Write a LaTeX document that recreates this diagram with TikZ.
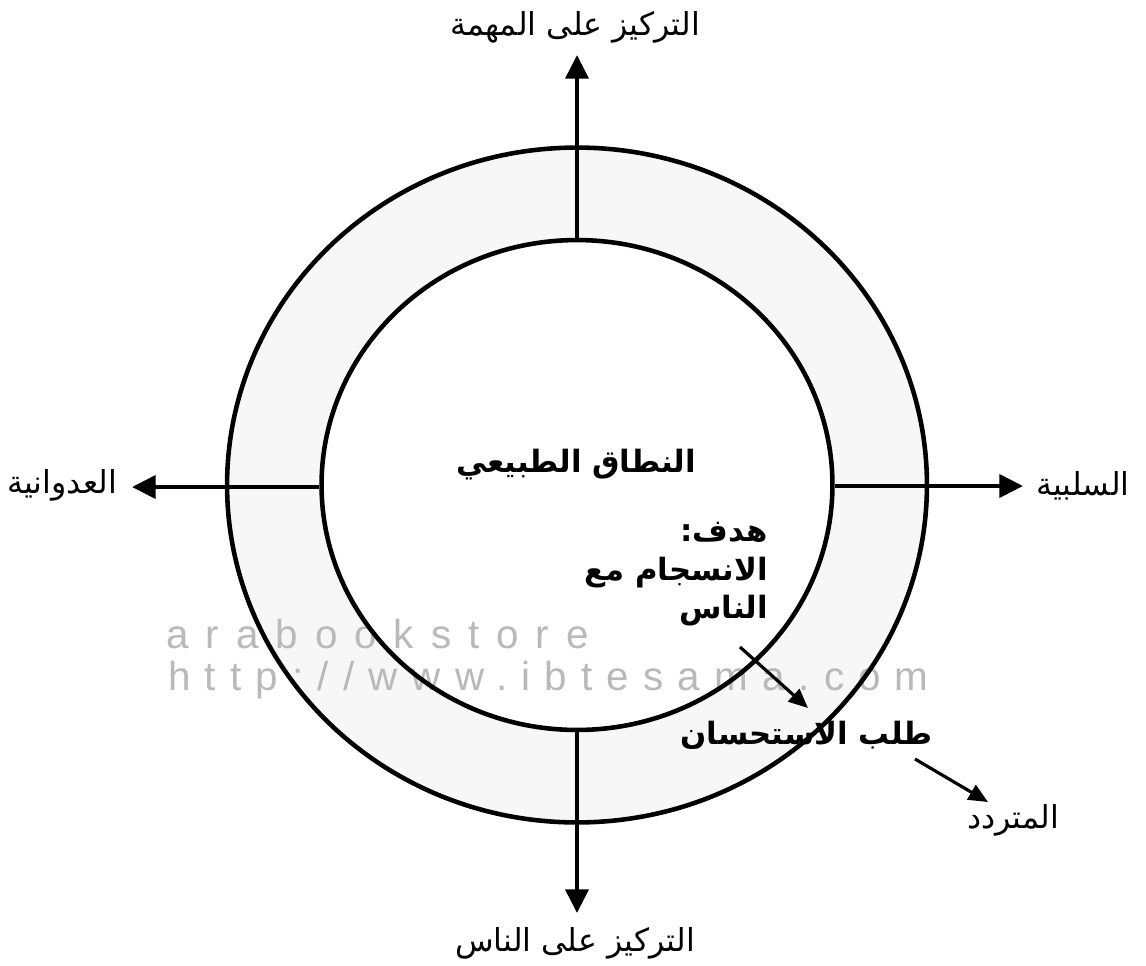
\documentclass[tikz,border=0pt]{standalone}
\usepackage{fontspec}
\usetikzlibrary{shapes.geometric,arrows.meta}
\newfontfamily\arfont[Script=Arabic]{DejaVu Sans}
\newfontfamily\wmfont{Liberation Sans}
\TeXXeTstate=1
\begin{document}
\begin{tikzpicture}[x=0.02cm,y=-0.02cm,
 ring/.style={draw, ellipse, line width=2.6pt, inner sep=0pt},
 arr/.style={line width=2.6pt, -{Triangle[length=13.5pt,width=13pt]}},
 sarr/.style={line width=1.8pt, -{Triangle[length=11pt,width=9.5pt]}},
 lbl/.style={font=\arfont\fontsize{18}{22}\selectfont, inner sep=0pt},
 blbl/.style={font=\arfont\bfseries\fontsize{17.5}{22}\selectfont, inner sep=0pt},
 wm/.style={font=\wmfont\fontsize{23}{27}\selectfont, text=gray!55, inner sep=0pt, anchor=base west}]
\useasboundingbox (0,0) rectangle (1146,965);
\fill[white] (0,0) rectangle (1146,965);

% ring shading
\fill[gray!6, even odd rule] (577,485) ellipse [x radius=7cm, y radius=6.75cm]
  (577,485) ellipse [x radius=5.11cm, y radius=4.9cm];

% watermark (under the lines)
\node[wm] (wm1) at (166,648) {\addfontfeature{LetterSpace=42}arabookstore};
\node[wm] (wm2) at (168,690) {\addfontfeature{LetterSpace=35}http://www.ibtesama.com};

\node[ring, minimum width=14cm, minimum height=13.5cm] (outer) at (577,485) {};
\node[ring, minimum width=10.22cm, minimum height=9.8cm] (inner) at (577,485) {};

\coordinate (ttip) at (577,55);
\coordinate (btip) at (577,913);
\coordinate (ltip) at (132,487);
\coordinate (rtip) at (1023,486);
\coordinate (g1s) at (740,647);
\coordinate (g1e) at (808,708);
\coordinate (g2s) at (915,759);
\coordinate (g2e) at (988,802);

\draw[arr] (inner.north) -- (ttip);
\draw[arr] (inner.south) -- (btip);
\draw[arr] (inner.west |- ltip) -- (ltip);
\draw[arr] (inner.east |- rtip) -- (rtip);
\draw[sarr] (g1s) -- (g1e);
\draw[sarr] (g2s) -- (g2e);

\node[lbl] (toplbl) at (575,27) {\beginR التركيز على المهمة\endR};
\node[lbl] (botlbl) at (575,943) {\beginR التركيز على الناس\endR};
\node[lbl] (leftlbl) at (62,485) {\beginR العدوانية\endR};
\node[lbl] (rightlbl) at (1083,486) {\beginR السلبية\endR};
\node[blbl] (center) at (576,465) {\beginR النطاق الطبيعي\endR};
\node[blbl, align=right, anchor=north east] (goal) at (768,522)
  {\beginR هدف:\endR\\ \beginR الانسجام مع\endR\\ \beginR الناس\endR};
\node[blbl, anchor=east] (approval) at (933,735) {\beginR طلب الاستحسان\endR};
\node[lbl] (hesitant) at (1013,820) {\beginR المتردد\endR};
\end{tikzpicture}
\end{document}
